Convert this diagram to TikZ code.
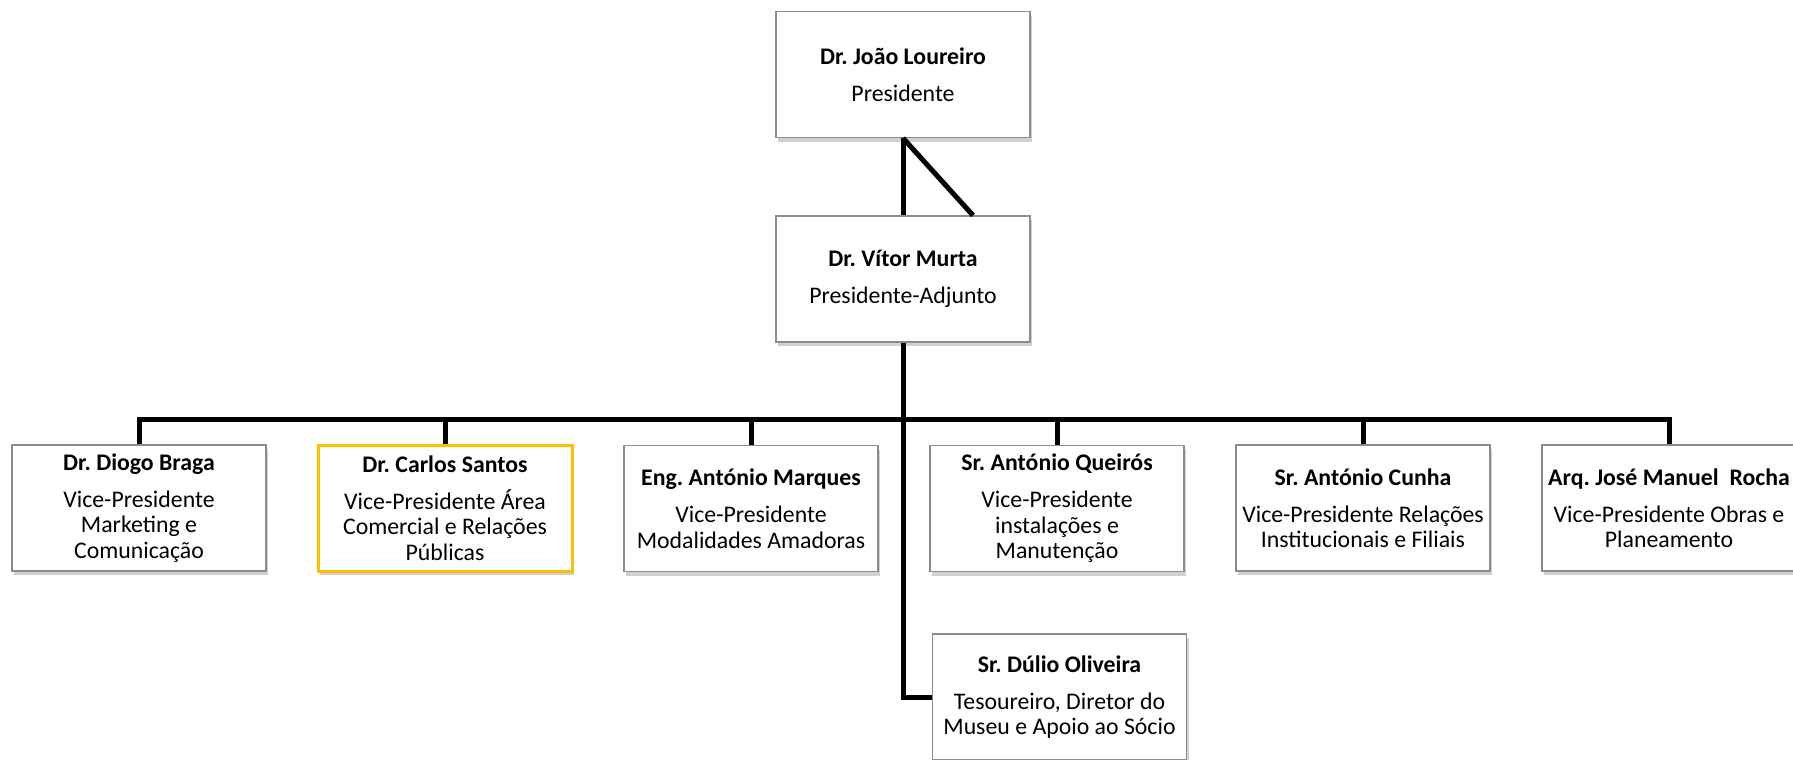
\documentclass[tikz,border=0pt]{standalone}
\usepackage{fontspec}
\setmainfont{Carlito}
\usetikzlibrary{shadows}
\definecolor{boxgold}{RGB}{255,192,0}
\frenchspacing

\begin{document}
\begin{tikzpicture}[x=0.5pt,y=-0.5pt,
	post/.style={draw=gray!90,line width=0.6pt,fill=white,minimum width=127pt,minimum height=63pt,
		inner sep=0pt,align=center,font=\fontsize{11.9}{12.75}\selectfont,
		drop shadow={shadow xshift=1pt,shadow yshift=-2pt,opacity=0.3,fill=black!60}},
	link/.style={line width=2.5pt}]
	\useasboundingbox (0,0) rectangle (1793,760);
	\node[post] (pres) at (903,74.5) {\textbf{Dr. João Loureiro}\\[5.75pt]Presidente};
	\node[post] (adj) at (903,279) {\textbf{Dr. Vítor Murta}\\[5.75pt]Presidente-Adjunto};
	\node[post] (braga) at (139,508) {\textbf{Dr. Diogo Braga}\\[5.75pt]Vice-Presidente\\Marketing e\\Comunicação};
	\node[post,draw=boxgold,line width=1.5pt] (santos) at (445,508) {\textbf{Dr. Carlos Santos}\\[5.75pt]Vice-Presidente Área\\Comercial e Relações\\Públicas};
	\node[post] (marques) at (751,508.5) {\textbf{Eng. António Marques}\\[5.75pt]Vice-Presidente\\Modalidades Amadoras};
	\node[post] (queiros) at (1057,508.5) {\textbf{Sr. António Queirós}\\[5.75pt]Vice-Presidente\\instalações e\\Manutenção};
	\node[post] (cunha) at (1363,508) {\textbf{Sr. António Cunha}\\[5.75pt]Vice-Presidente Relações\\Institucionais e Filiais};
	\node[post] (rocha) at (1669,508) {\textbf{Arq. José Manuel\ \ Rocha}\\[5.75pt]Vice-Presidente Obras e\\Planeamento};
	\node[post] (oliveira) at (1059.5,697) {\textbf{Sr. Dúlio Oliveira}\\[5.75pt]Tesoureiro, Diretor do\\Museu e Apoio ao Sócio};
	\coordinate (bus) at (903,419);
	\draw[link] (pres) -- (adj);
	\draw[link] (pres.south) -- ([xshift=35pt]adj.north);
	\draw[link] (adj) |- (oliveira);
	\draw[link] (braga) |- (bus) -| (rocha);
	\foreach \n in {santos,marques,queiros,cunha}
		\draw[link] (\n) -- (\n.north |- bus);
\end{tikzpicture}
\end{document}
